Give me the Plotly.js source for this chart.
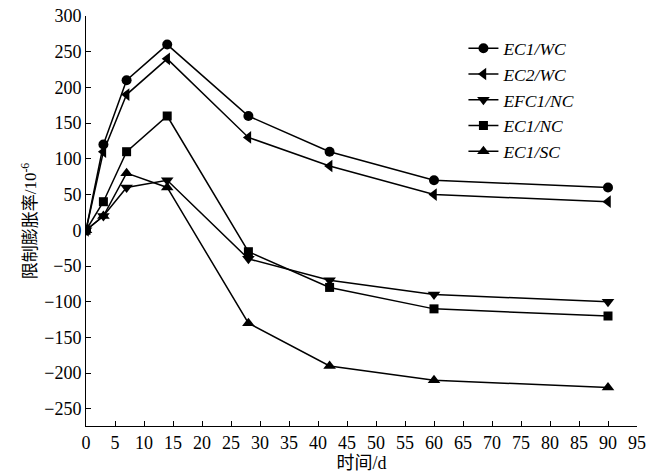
<!DOCTYPE html>
<html>
<head>
<meta charset="utf-8">
<script src="https://cdn.plot.ly/plotly-3.0.1.min.js"></script>
<style>
  html, body { margin: 0; padding: 0; background: #fff; }
  #chart { width: 662px; height: 473px; }
</style>
</head>
<body>
<div id="chart"></div>
<script>
// Curing age (days)
const days = [0, 3, 7, 14, 28, 42, 60, 90];

// Restrained expansion rate (×10^-6) for each mix
const ec1wc  = [0, 120, 210, 260, 160, 110, 70, 60];
const ec2wc  = [0, 110, 190, 240, 130, 90, 50, 40];
const efc1nc = [0, 20, 60, 70, -40, -70, -90, -100];
const ec1nc  = [0, 40, 110, 160, -30, -80, -110, -120];
const ec1sc  = [0, 20, 80, 60, -130, -190, -210, -220];

const seriesNames = ['EC1/WC', 'EC2/WC', 'EFC1/NC', 'EC1/NC', 'EC1/SC'];
const seriesData = [ec1wc, ec2wc, efc1nc, ec1nc, ec1sc];
const symbols = ['circle', 'triangle-left', 'triangle-down', 'square', 'triangle-up'];
const sizes = [10, 11, 11, 9, 11];

const traces = seriesData.map((ys, i) => ({
  x: days,
  y: ys,
  name: seriesNames[i],
  type: 'scatter',
  mode: 'lines+markers',
  line: { color: '#000', width: 1.5 },
  marker: { symbol: symbols[i], size: sizes[i], color: '#000' }
}));

const serif = '"Liberation Serif", "Times New Roman", "Noto Sans CJK SC", serif';

const layout = {
  width: 662,
  height: 473,
  margin: { l: 86, r: 25, t: 16, b: 47 },
  paper_bgcolor: '#fff',
  plot_bgcolor: '#fff',
  font: { family: serif, size: 18, color: '#000' },
  showlegend: true,
  legend: {
    x: 0.685, y: 0.965, xanchor: 'left', yanchor: 'top',
    font: { family: serif, size: 17.5, color: '#000', style: 'italic' },
    bgcolor: 'rgba(0,0,0,0)',
    tracegroupgap: 0
  },
  xaxis: {
    range: [0, 95],
    tickmode: 'linear', tick0: 0, dtick: 5,
    ticks: 'inside', ticklen: 5, tickcolor: '#000', tickwidth: 1,
    showline: true, linecolor: '#000', linewidth: 1,
    showgrid: false, zeroline: false,
    tickfont: { family: serif, size: 18 },
    title: { text: '时间/d', font: { family: serif, size: 18 }, standoff: 0 }
  },
  yaxis: {
    range: [-274, 300],
    tickmode: 'linear', tick0: 0, dtick: 50,
    ticks: 'inside', ticklen: 5, tickcolor: '#000', tickwidth: 1,
    showline: true, linecolor: '#000', linewidth: 1,
    showgrid: false, zeroline: false,
    tickfont: { family: serif, size: 18 },
    title: { text: '限制膨胀率/10<sup>-6</sup>', font: { family: serif, size: 17 }, standoff: 3 }
  }
};

Plotly.newPlot('chart', traces, layout, { displayModeBar: false, staticPlot: true });
</script>
</body>
</html>
